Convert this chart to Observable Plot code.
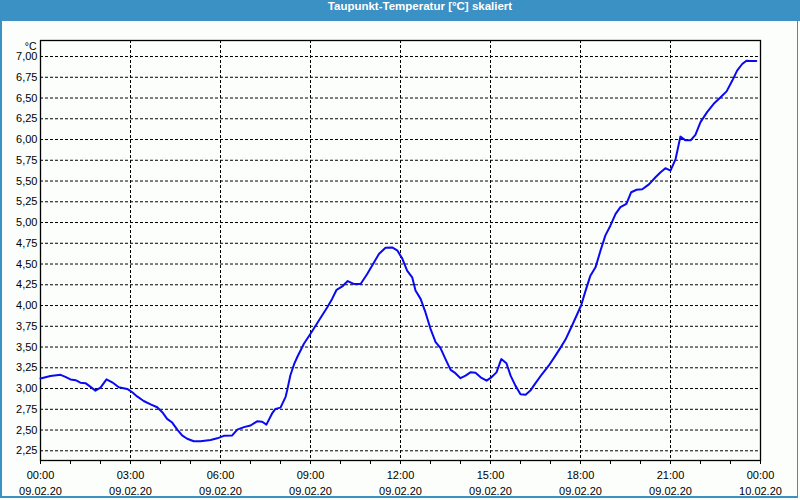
<!DOCTYPE html>
<html>
<head>
<meta charset="utf-8">
<script src="https://cdn.jsdelivr.net/npm/d3@7"></script>
<script src="https://cdn.jsdelivr.net/npm/@observablehq/plot@0.6"></script>
<style>
  html, body { margin: 0; padding: 0; background: #fcfefc; }
  #wrap { position: relative; width: 800px; height: 500px; overflow: hidden; background: #fcfefc; color: #000; }
  #title { height: 21px; line-height: 21px; background: #3b90c4; color: #fff; font: bold 11.5px "Liberation Sans", "DejaVu Sans", sans-serif; text-align: center; padding-left: 40px; box-sizing: border-box; }
  #border { position: absolute; left: 0; top: 0; width: 798px; height: 498px; box-sizing: border-box; border: 2px solid #3b90c4; border-top: 0; border-right-width: 1px; pointer-events: none; }
  #chart svg { display: block; }
</style>
</head>
<body>
<div id="wrap">
  <div id="title">Taupunkt-Temperatur [°C] skaliert</div>
  <div id="chart"></div>
  <div id="border"></div>
</div>
<script>
// Hours since 09.02.20 00:00
const hours = [0.00,0.33,0.67,0.83,1.00,1.17,1.33,1.50,1.67,1.83,2.00,2.20,2.39,2.61,2.89,3.06,3.22,3.44,3.67,3.89,4.06,4.22,4.39,4.56,4.72,4.89,5.11,5.33,5.67,5.89,6.11,6.39,6.56,6.78,7.00,7.22,7.39,7.53,7.72,7.83,8.00,8.17,8.22,8.33,8.45,8.56,8.78,9.00,9.28,9.56,9.72,9.87,10.06,10.24,10.44,10.67,10.89,11.11,11.28,11.50,11.72,11.89,12.06,12.22,12.39,12.50,12.67,12.83,13.00,13.17,13.33,13.50,13.67,13.83,14.00,14.17,14.33,14.50,14.67,14.87,15.03,15.20,15.36,15.53,15.67,15.83,16.00,16.17,16.33,16.50,16.72,16.94,17.17,17.33,17.50,17.72,17.87,18.02,18.17,18.33,18.50,18.67,18.83,19.00,19.17,19.33,19.53,19.69,19.87,20.06,20.28,20.50,20.67,20.83,21.00,21.17,21.33,21.50,21.67,21.83,22.00,22.22,22.44,22.67,22.87,23.06,23.22,23.39,23.53,23.67,23.86];
// Dew point temperature [°C]
const dewPoint = [3.12,3.15,3.165,3.14,3.11,3.10,3.07,3.065,3.02,2.975,3.01,3.11,3.075,3.015,2.995,2.955,2.905,2.85,2.81,2.775,2.715,2.635,2.59,2.505,2.435,2.395,2.365,2.365,2.38,2.40,2.43,2.435,2.505,2.535,2.555,2.605,2.60,2.565,2.70,2.755,2.77,2.90,2.975,3.16,3.29,3.38,3.54,3.66,3.82,3.98,4.08,4.19,4.23,4.295,4.26,4.26,4.38,4.515,4.62,4.695,4.70,4.665,4.565,4.42,4.34,4.18,4.08,3.92,3.72,3.56,3.49,3.355,3.225,3.185,3.125,3.155,3.195,3.19,3.135,3.095,3.135,3.195,3.355,3.305,3.155,3.035,2.93,2.925,2.975,3.065,3.175,3.275,3.40,3.49,3.59,3.76,3.88,4.00,4.18,4.36,4.46,4.665,4.845,4.965,5.105,5.185,5.225,5.365,5.395,5.40,5.46,5.545,5.605,5.655,5.625,5.765,6.035,5.99,5.99,6.055,6.21,6.33,6.43,6.51,6.58,6.71,6.83,6.91,6.95,6.945,6.945];

const xTickHours = [0,3,6,9,12,15,18,21,24];
const xTickTimes = ["00:00","03:00","06:00","09:00","12:00","15:00","18:00","21:00","00:00"];
const xTickDates = ["09.02.20","09.02.20","09.02.20","09.02.20","09.02.20","09.02.20","09.02.20","09.02.20","10.02.20"];
const xMinorHours = d3.range(0, 25, 1);
const yTicks = [2.25,2.50,2.75,3.00,3.25,3.50,3.75,4.00,4.25,4.50,4.75,5.00,5.25,5.50,5.75,6.00,6.25,6.50,6.75,7.00];
const yUnit = "°C";

const data = hours.map((h, i) => ({h, v: dewPoint[i]}));
const labelOf = h => {
  const i = xTickHours.indexOf(h);
  return i < 0 ? "" : xTickTimes[i] + "\n" + xTickDates[i];
};

const chart = Plot.plot({
  width: 800,
  height: 479,
  marginTop: 19,
  marginBottom: 40,
  marginLeft: 40,
  marginRight: 40,
  style: {fontFamily: "Liberation Sans, Arial, sans-serif", fontSize: "11px", background: "transparent", color: "#000"},
  x: {domain: [0, 24]},
  y: {domain: [2.133, 7.193]},
  marks: [
    Plot.gridY(yTicks, {stroke: "#000", strokeOpacity: 1, strokeDasharray: "3,2"}),
    Plot.gridX(xTickHours.filter(h => h > 0 && h < 24), {stroke: "#000", strokeOpacity: 1, strokeDasharray: "3,2"}),
    Plot.axisX(xMinorHours, {tickSize: 4, tickPadding: 3, tickFormat: labelOf, lineHeight: 1.45, label: null, stroke: "#000"}),
    Plot.axisY(yTicks, {tickSize: 0, tickPadding: 3, tickFormat: d => d.toFixed(2).replace(".", ","), label: null}),
    Plot.text([yUnit], {frameAnchor: "top-left", dx: -4, dy: 2, textAnchor: "end", fill: "#000", fontSize: 10.5}),
    Plot.frame({stroke: "#000", strokeWidth: 1.3}),
    Plot.line(data, {x: "h", y: "v", stroke: "#0a0af0", strokeWidth: 2})
  ]
});
document.getElementById("chart").appendChild(chart);
</script>
</body>
</html>
